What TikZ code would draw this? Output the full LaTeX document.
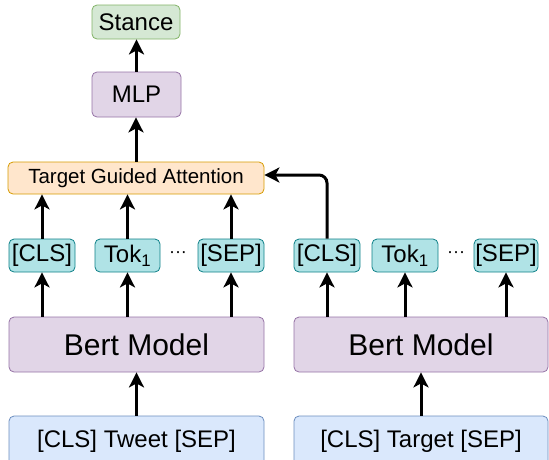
\documentclass[tikz,border=0pt]{standalone}
\usepackage{fontspec}
\setmainfont{Liberation Sans}
\usetikzlibrary{arrows.meta}

\definecolor{stancefill}{HTML}{D5E8D4}
\definecolor{stanceline}{HTML}{82B366}
\definecolor{mlpfill}{HTML}{E1D5E7}
\definecolor{mlpline}{HTML}{9673A6}
\definecolor{attfill}{HTML}{FFE6CC}
\definecolor{attline}{HTML}{D79B00}
\definecolor{tokfill}{HTML}{B0E3E6}
\definecolor{tokline}{HTML}{0E8088}
\definecolor{inputfill}{HTML}{DAE8FC}
\definecolor{inputline}{HTML}{6C8EBF}

\tikzset{
	box/.style={draw, rounded corners=5pt, inner sep=0pt, line width=0.8pt,
		font=\fontsize{24}{28}\selectfont},
	stancebox/.style={box, fill=stancefill, draw=stanceline, minimum width=88pt, minimum height=34pt},
	mlpbox/.style={box, fill=mlpfill, draw=mlpline, minimum width=89pt, minimum height=45pt},
	attbox/.style={box, fill=attfill, draw=attline, minimum width=256pt, minimum height=32pt,
		font=\fontsize{20.5}{24}\selectfont},
	tokbox/.style={box, fill=tokfill, draw=tokline, minimum width=66pt, minimum height=33pt},
	bertbox/.style={box, fill=mlpfill, draw=mlpline, minimum width=255pt, minimum height=55pt,
		font=\fontsize{30}{34}\selectfont},
	inputbox/.style={box, fill=inputfill, draw=inputline, minimum width=255pt, minimum height=50pt},
	dots/.style={inner sep=0pt, anchor=base, font=\fontsize{18}{18}\selectfont},
	arr/.style={line width=3pt, -{Stealth[length=15pt, width=15pt, inset=4pt]}},
}

\begin{document}
\begin{tikzpicture}[x=1pt, y=-1pt]
		\useasboundingbox (0,0) rectangle (549,459);
		\clip (0,0) rectangle (549,459);

		% Draw the boxes on top
		\node[stancebox] (stance) at (136,22) {Stance};
		\node[mlpbox] (mlp) at (136.5,94.5) {MLP};
		\node[attbox] (tga) at (136,178) {Target Guided Attention};

		% Draw the tokens of the tweet
		\node[tokbox] (clsL) at (42,255.5) {[CLS]};
		\node[tokbox, minimum width=65pt] (tokL) at (127.5,255.5) {Tok\textsubscript{1}};
		\node[tokbox] (sepL) at (231,255.5) {[SEP]};
		\node[dots] (dotsL) at (178,257) {\textperiodcentered\textperiodcentered\textperiodcentered};

		% Draw the tokens of the target
		\node[tokbox] (clsR) at (327,255.5) {[CLS]};
		\node[tokbox] (tokR) at (405,255.5) {Tok\textsubscript{1}};
		\node[tokbox, minimum width=64pt] (sepR) at (506,255.5) {[SEP]};
		\node[dots] (dotsR) at (456,257) {\textperiodcentered\textperiodcentered\textperiodcentered};

		% Draw the two encoders
		\node[bertbox] (bertL) at (136.5,344.5) {Bert Model};
		\node[bertbox, minimum width=254pt] (bertR) at (421,344.5) {Bert Model};

		% Draw the inputs (cut by the bottom edge)
		\node[inputbox] (inL) at (136.5,441) {\raisebox{3.5pt}{[CLS] Tweet [SEP]}};
		\node[inputbox, minimum width=254pt] (inR) at (421,441) {\raisebox{3.5pt}{[CLS] Target [SEP]}};

		% Draw the arrows into the encoders
		\draw[arr] (inL.north) -- (bertL.south);
		\draw[arr] (inR.north) -- (bertR.south);

		% Draw the arrows from the encoders to the tokens
		\draw[arr] (clsL.south |- bertL.north) -- (clsL.south);
		\draw[arr] (tokL.south |- bertL.north) -- (tokL.south);
		\draw[arr] (sepL.south |- bertL.north) -- (sepL.south);
		\draw[arr] (clsR.south |- bertR.north) -- (clsR.south);
		\draw[arr] (tokR.south |- bertR.north) -- (tokR.south);
		\draw[arr] (sepR.south |- bertR.north) -- (sepR.south);

		% Draw the arrows into the attention
		\draw[arr] (clsL.north) -- (clsL.north |- tga.south);
		\draw[arr] (tokL.north) -- (tokL.north |- tga.south);
		\draw[arr] (sepL.north) -- (sepL.north |- tga.south);
		\draw[arr, rounded corners=8pt] (clsR.north) |- ([yshift=3pt]tga.east);

		% Draw the arrows to the output
		\draw[arr] (tga.north) -- (tga.north |- mlp.south);
		\draw[arr] (mlp.north) -- (mlp.north |- stance.south);

	\end{tikzpicture}
\end{document}
